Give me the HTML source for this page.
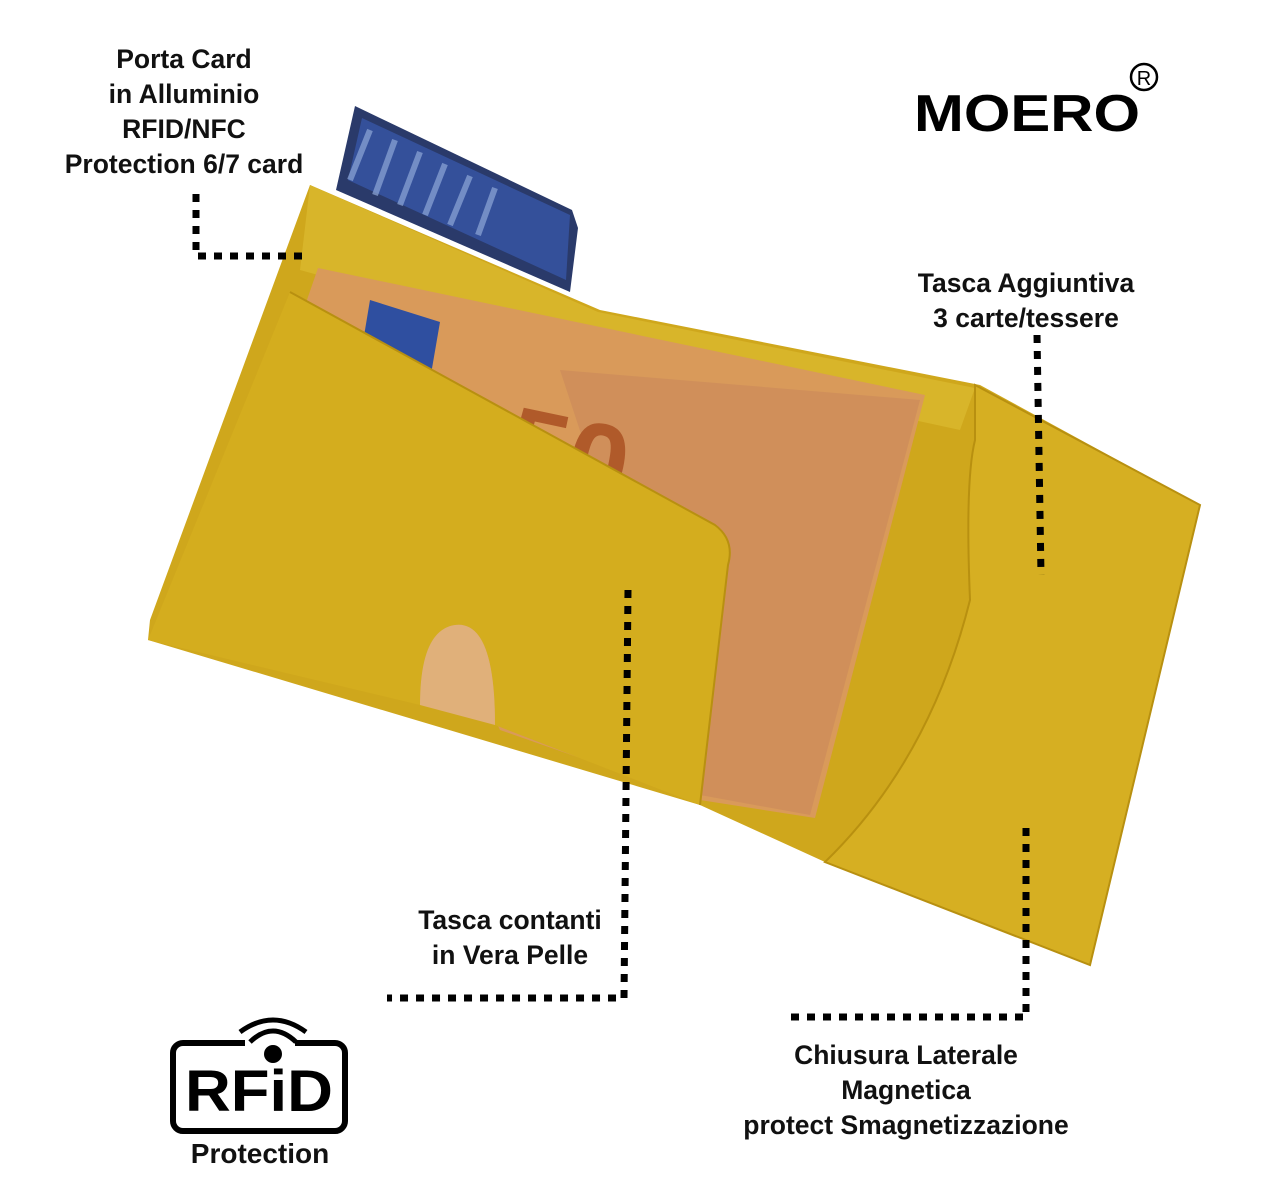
<!DOCTYPE html>
<html><head><meta charset="utf-8">
<style>
html,body{margin:0;padding:0;background:#fff;}
body{width:1282px;height:1198px;overflow:hidden;position:relative;font-family:"Liberation Sans",sans-serif;}
.t{position:absolute;font-weight:bold;font-size:26.5px;line-height:35px;color:#111;text-align:center;white-space:nowrap;}
</style></head><body>
<svg width="1282" height="1198" style="position:absolute;left:0;top:0">
  <!-- card -->
  <polygon points="355,106 572,210 578,228 570,292 336,190" fill="#2a3a6a"/>
  <polygon points="362,118 570,215 566,280 348,180" fill="#34509a"/>
  <g stroke="#8fa8d8" stroke-width="6" opacity="0.7">
    <line x1="370" y1="130" x2="350" y2="180"/><line x1="395" y1="140" x2="375" y2="195"/>
    <line x1="420" y1="152" x2="400" y2="205"/><line x1="445" y1="164" x2="425" y2="215"/>
    <line x1="470" y1="176" x2="450" y2="225"/><line x1="495" y1="188" x2="478" y2="235"/>
  </g>
  <!-- back panel -->
  <polygon points="310,185 600,310 980,385 1200,505 1090,965 825,862 700,805 148,640 150,620" fill="#cfa71c"/>
  <polygon points="310,185 598,312 975,388 960,430 590,350 300,270" fill="#d8b52a"/>
  <!-- bill -->
  <polygon points="318,268 925,395 815,818 700,800 500,730 300,320" fill="#d99a5a"/>
  <polygon points="560,370 920,400 810,815 700,795" fill="#c9885a" opacity="0.6"/>
  <polygon points="370,300 440,322 430,380 360,360" fill="#2f4fa0"/>
  <text x="500" y="480" font-size="110" font-weight="bold" fill="#b05a2a" font-family="Liberation Sans" transform="rotate(12 500 480)">50</text>
  <!-- right flap -->
  <path d="M975,385 L1200,505 L1090,965 L825,862 Q930,760 970,600 Q965,480 975,440 Z" fill="#d6af22"/>
  <path d="M975,385 L1200,505 L1090,965 L825,862 Q930,760 970,600 Q965,480 975,440 Z" fill="none" stroke="#b89010" stroke-width="2"/>
  <!-- front pocket -->
  <path d="M290,292 L715,525 Q735,540 728,565 L700,805 L495,725 Q495,620 455,625 Q420,630 420,705 L148,640 Z" fill="#d4ad1e"/>
  <path d="M290,292 L715,525 Q735,540 728,565 L700,805" fill="none" stroke="#b89010" stroke-width="2"/>
  <path d="M495,725 Q495,620 455,625 Q420,630 420,705 L495,725 Z" fill="#e0b07a"/>
  <!-- dotted leader lines -->
  <g stroke="#000" stroke-width="7" stroke-dasharray="8 8" fill="none">
    <polyline points="196,194 196,256 305,256"/>
    <polyline points="1037,335 1041,575"/>
    <polyline points="628,590 624,998 387,998"/>
    <polyline points="1026,828 1026,1017 790,1017"/>
  </g>
  <!-- RFID logo -->
  <rect x="173" y="1043" width="172" height="88" rx="10" fill="none" stroke="#000" stroke-width="6"/>
  <rect x="245" y="1036" width="50" height="14" fill="#fff"/>
  <circle cx="273" cy="1054" r="9" fill="#000"/>
  <path d="M250,1042 Q273,1020 296,1042" fill="none" stroke="#000" stroke-width="5"/>
  <path d="M240,1032 Q273,1008 306,1032" fill="none" stroke="#000" stroke-width="5"/>
  <text x="185" y="1111" textLength="148" lengthAdjust="spacingAndGlyphs" font-size="58" font-weight="bold" font-family="Liberation Sans" fill="#000">RFiD</text>
  <!-- MOERO -->
  <text x="914" y="131" textLength="226" lengthAdjust="spacingAndGlyphs" font-size="52" font-weight="bold" font-family="Liberation Sans" fill="#000">MOERO</text>
  <circle cx="1144" cy="77" r="13" fill="none" stroke="#000" stroke-width="2.5"/>
  <text x="1144" y="85" text-anchor="middle" font-size="20" font-family="Liberation Sans" fill="#000">R</text>
</svg>
<div class="t" style="left:34px;top:42px;width:300px">Porta Card<br>in Alluminio<br>RFID/NFC<br>Protection 6/7 card</div>
<div class="t" style="left:890px;top:266px;width:272px">Tasca Aggiuntiva<br>3 carte/tessere</div>
<div class="t" style="left:390px;top:903px;width:240px">Tasca contanti<br>in Vera Pelle</div>
<div class="t" style="left:716px;top:1038px;width:380px">Chiusura Laterale<br>Magnetica<br>protect Smagnetizzazione</div>
<div class="t" style="left:150px;top:1136px;width:220px;font-size:28px">Protection</div>
</body></html>
